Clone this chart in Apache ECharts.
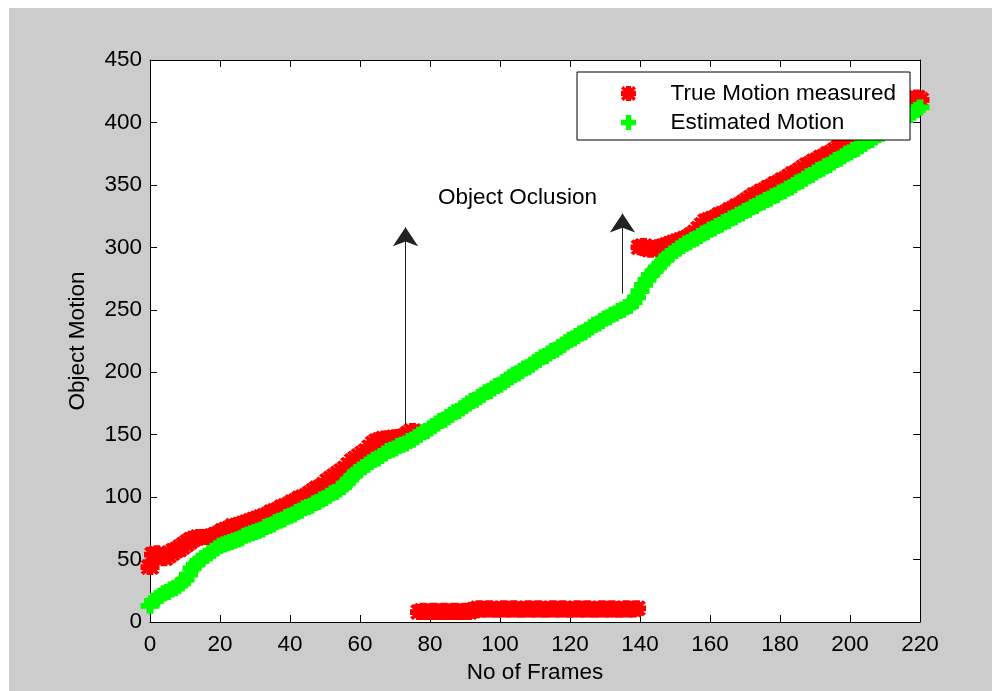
<!DOCTYPE html>
<html>
<head>
<meta charset="utf-8">
<title>Object Motion</title>
<script src="https://cdn.jsdelivr.net/npm/echarts@6/dist/echarts.min.js"></script>
<style>
  html, body { margin: 0; padding: 0; background: #fff; }
  #bg { position: absolute; left: 9px; top: 8px; width: 983px; height: 683px; background: #cccccc; }
  #main { position: absolute; left: 0; top: 0; width: 992px; height: 691px; }
</style>
</head>
<body>
<div id="bg"></div>
<div id="main"></div>
<script>
// 真实测量值 (frame 0..220)
const trueMotion = [
  44, 54, 55, 52, 51, 53, 55, 57, 58, 60,
  62, 64, 66, 67, 68, 68, 68, 68, 69, 70,
  71, 73, 74, 75, 77, 77, 78, 79, 80, 81,
  82, 83, 84, 85, 86, 88, 89, 90, 92, 93,
  94, 96, 97, 99, 100, 101, 103, 105, 107, 108,
  110, 113, 115, 117, 119, 121, 123, 126, 129, 131,
  133, 135, 137, 140, 143, 145, 146, 147, 147, 147,
  148, 148, 148, 149, 151, 153, 152,
  // 遮挡段
  8, 9, 8, 8, 9, 8, 8, 9, 8, 8, 9, 8, 8, 9, 8, 9,
  10, 11, 10, 10, 11, 10, 10, 10, 11, 10,
  10, 11, 10, 10, 10, 11, 10, 10, 11, 10,
  10, 10, 11, 10, 10, 11, 10, 10, 10, 11,
  10, 10, 11, 10, 10, 10, 11, 10, 10, 11,
  10, 10, 10, 11, 10, 10, 11,
  300, 301, 299, 298, 299, 300, 300, 301, 302, 303,
  304, 305, 306, 307, 308, 310, 312, 315, 318, 321,
  322, 323, 324, 326, 327, 328, 330, 331, 333, 334,
  336, 338, 340, 342, 343, 345, 346, 348, 349, 351,
  352, 354, 355, 357, 359, 360, 362, 364, 366, 367,
  369, 370, 372, 373, 375, 376, 378, 380, 381, 383,
  385, 386, 388, 389, 391, 393, 394, 396, 398, 399,
  401, 403, 404, 406, 408, 410, 412, 415, 419, 420,
  418
];
// 估计值
const estMotion = [
  13, 17, 19, 21, 23, 24, 26, 27, 29, 31,
  34, 38, 43, 46, 49, 51, 53, 55, 57, 59,
  61, 62, 63, 64, 65, 66, 67, 69, 70, 71,
  72, 73, 74, 76, 77, 78, 80, 81, 82, 84,
  85, 86, 88, 89, 91, 92, 93, 95, 96, 98,
  99, 101, 103, 104, 106, 108, 111, 114, 117, 120,
  122, 124, 126, 128, 130, 131, 133, 135, 137, 138,
  139, 141, 142, 143, 145, 146, 148, 150, 152, 153,
  155, 157, 159, 161, 162, 164, 166, 168, 169, 171,
  173, 175, 177, 178, 180, 182, 184, 185, 187, 189,
  190, 192, 194, 196, 198, 199, 201, 203, 204, 206,
  208, 210, 212, 213, 215, 217, 218, 220, 222, 224,
  226, 227, 229, 231, 232, 234, 236, 238, 239, 241,
  243, 244, 246, 247, 249, 250, 252, 253, 256, 260,
  265, 270, 274, 278, 281, 284, 287, 290, 293, 295,
  297, 299, 301, 303, 304, 306, 307, 309, 311, 312,
  314, 315, 317, 318, 320, 321, 323, 324, 326, 327,
  329, 330, 332, 333, 335, 336, 338, 339, 341, 342,
  344, 345, 347, 348, 350, 352, 353, 355, 357, 358,
  360, 362, 363, 365, 366, 368, 370, 371, 373, 375,
  376, 378, 379, 381, 383, 385, 386, 388, 390, 391,
  393, 395, 397, 398, 400, 402, 404, 406, 408, 410,
  412
];
const seriesNames = ["True Motion measured", "Estimated Motion"];
// 坐标轴刻度
const xTicks = [0, 220, 20];
const yTicks = [0, 450, 50];
// 标注 (数据坐标)
const arrows = [
  [[73, 158], [73, 316]],
  [[135, 263], [135, 327]],
];
const noteText = "Object Oclusion";
const notePos = [105, 340];

(function () {
  let font = "'Liberation Sans', Arial, sans-serif";
  let fs = 22.5;
  let plusPath = "path://M3.2,0H6.8V3.2H10V6.8H6.8V10H3.2V6.8H0V3.2H3.2Z";
  let starPath = plusPath +
    " M0,1.6L1.6,0L10,8.4L8.4,10Z M8.4,0L10,1.6L1.6,10L0,8.4Z";
  let black = { color: "#000", width: 1 };

  function xAxis(pos, labels) {
    return {
      type: "value",
      position: pos,
      min: xTicks[0],
      max: xTicks[1],
      interval: xTicks[2],
      axisLine: { show: true, onZero: false, lineStyle: black },
      axisTick: { show: true, inside: true, length: 7, lineStyle: black },
      axisLabel: { show: labels, color: "#000", fontSize: fs, fontFamily: font, margin: 11 },
      splitLine: { show: false },
    };
  }
  function yAxis(pos, labels) {
    return {
      type: "value",
      position: pos,
      min: yTicks[0],
      max: yTicks[1],
      interval: yTicks[2],
      axisLine: { show: true, onZero: false, lineStyle: black },
      axisTick: { show: true, inside: true, length: 7, lineStyle: black },
      axisLabel: { show: labels, color: "#000", fontSize: fs, fontFamily: font, margin: 8 },
      splitLine: { show: false },
    };
  }

  let xBottom = xAxis("bottom", true);
  xBottom.name = "No of Frames";
  xBottom.nameLocation = "middle";
  xBottom.nameGap = 38;
  xBottom.nameTextStyle = { color: "#000", fontSize: fs, fontFamily: font };
  let yLeft = yAxis("left", true);
  yLeft.name = "Object Motion";
  yLeft.nameLocation = "middle";
  yLeft.nameGap = 61;
  yLeft.nameTextStyle = { color: "#000", fontSize: fs, fontFamily: font };

  let option = {
    animation: false,
    backgroundColor: "transparent",
    grid: {
      left: 150,
      top: 60,
      width: 770,
      height: 562,
      show: true,
      backgroundColor: "#fff",
      borderWidth: 0,
    },
    xAxis: [xBottom, xAxis("top", false)],
    yAxis: [yLeft, yAxis("right", false)],
    legend: {
      orient: "vertical",
      left: 577,
      top: 72,
      width: 335,
      padding: [10, 14, 6, 44],
      itemWidth: 74,
      itemHeight: 15,
      itemGap: 6,
      backgroundColor: "#fff",
      borderColor: "#000",
      borderWidth: 1,
      textStyle: { color: "#000", fontSize: fs, fontFamily: font },
      data: [
        { name: seriesNames[0], icon: starPath },
        { name: seriesNames[1], icon: plusPath },
      ],
    },
    series: [
      {
        name: seriesNames[0],
        type: "scatter",
        data: trueMotion.map(function (v, i) { return [i, v]; }),
        symbol: starPath,
        symbolSize: [19, 16],
        clip: false,
        itemStyle: { color: "#ff0000", opacity: 1 },
        emphasis: { disabled: true },
        markLine: {
          silent: true,
          symbol: ["none", "arrow"],
          symbolSize: 19,
          label: { show: false },
          lineStyle: { color: "#222", width: 1, type: "solid" },
          emphasis: { disabled: true },
          data: arrows.map(function (a) {
            return [{ coord: a[0] }, { coord: a[1] }];
          }),
        },
      },
      {
        name: seriesNames[1],
        type: "scatter",
        data: estMotion.map(function (v, i) { return [i, v]; }),
        symbol: plusPath,
        symbolSize: [19, 16],
        clip: false,
        itemStyle: { color: "#00ff00", opacity: 1 },
        emphasis: { disabled: true },
        markPoint: {
          silent: true,
          symbol: "circle",
          symbolSize: 1,
          itemStyle: { color: "rgba(0,0,0,0)" },
          label: {
            show: true,
            position: "inside",
            formatter: noteText,
            color: "#000",
            fontSize: fs,
            fontFamily: font,
          },
          data: [{ coord: notePos }],
        },
      },
    ],
  };
  let mychart = echarts.init(document.getElementById("main"));
  mychart.setOption(option);
})();
</script>
</body>
</html>
